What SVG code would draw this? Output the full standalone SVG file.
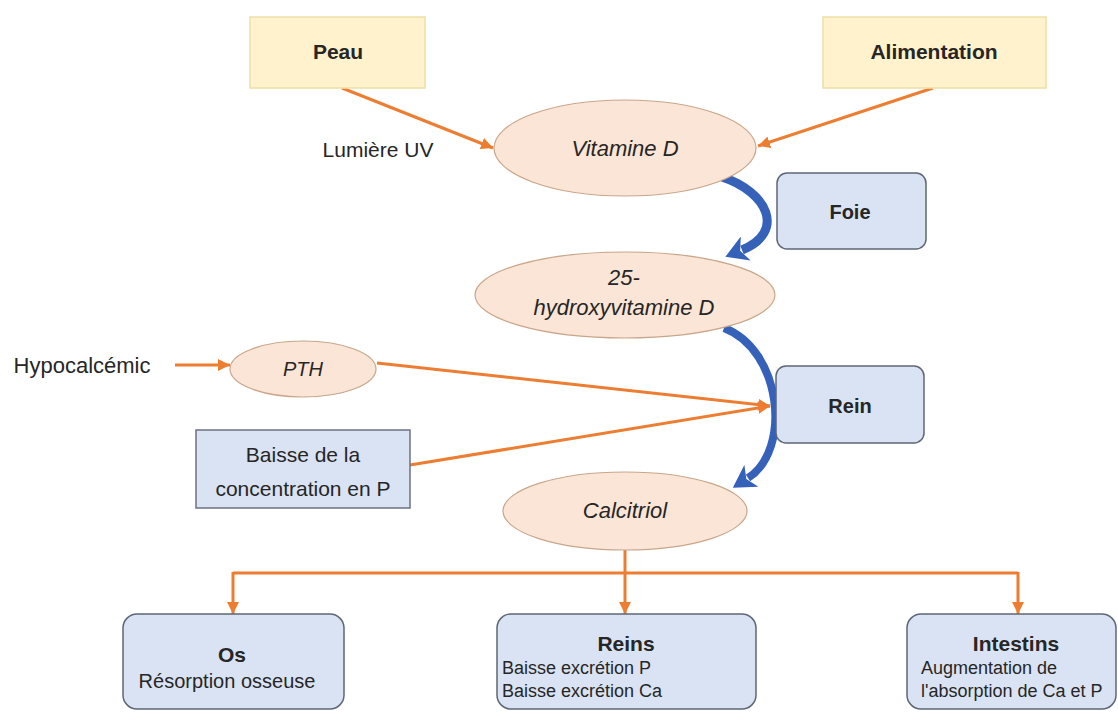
<svg xmlns="http://www.w3.org/2000/svg" width="1118" height="716" viewBox="0 0 1118 716">
<defs>
<style>
text{font-family:"Liberation Sans",Arial,sans-serif;fill:#262626;text-anchor:middle}
.b{font-weight:bold}
.i{font-style:italic}
.l{text-anchor:start}
.src{fill:#FFF2CC;stroke:#EEDFA6;stroke-width:1.5}
.ell{fill:#FBE5D6;stroke:#C9A689;stroke-width:1.2}
.org{fill:#DAE3F3;stroke:#5E6775;stroke-width:1.5}
.sq{fill:#DAE3F3;stroke:#6B7381;stroke-width:1.5}
.oc{stroke:#ED7D31;stroke-width:3;fill:none}
.bc{stroke:#3561B8;fill:none;stroke-linecap:butt}
</style>
<marker id="oa" markerUnits="userSpaceOnUse" markerWidth="14" markerHeight="12" refX="12" refY="6" orient="auto">
<path d="M0,0 L12,6 L0,12 Z" fill="#ED7D31"/>
</marker>
<marker id="ba" markerUnits="userSpaceOnUse" markerWidth="26" markerHeight="26" refX="4" refY="13" orient="auto">
<path d="M0,13 L22,0 L16,13 L22,26 Z" fill="#3561B8" transform="rotate(180 11 13)"/>
</marker>
</defs>

<g id="connectors">
<line class="oc" x1="342" y1="88" x2="493" y2="148" marker-end="url(#oa)"/>
<line class="oc" x1="933" y1="88" x2="758" y2="146" marker-end="url(#oa)"/>
<line class="oc" x1="175" y1="365" x2="230" y2="365" marker-end="url(#oa)"/>
<line class="oc" x1="377" y1="363" x2="770" y2="406" marker-end="url(#oa)"/>
<line class="oc" x1="410" y1="465" x2="770" y2="406" marker-end="url(#oa)"/>
<line class="oc" x1="625" y1="550" x2="625" y2="573"/>
<line class="oc" x1="233" y1="573" x2="1018" y2="573"/>
<line class="oc" x1="233" y1="572" x2="233" y2="614" marker-end="url(#oa)"/>
<line class="oc" x1="625" y1="572" x2="625" y2="614" marker-end="url(#oa)"/>
<line class="oc" x1="1018" y1="572" x2="1018" y2="614" marker-end="url(#oa)"/>
<path class="bc" stroke-width="9" d="M722,177 C768,192 786,232 742,250" marker-end="url(#ba)"/>
<path class="bc" stroke-width="8" d="M724,328 C782,350 792,450 748,478" marker-end="url(#ba)"/>
</g>

<g id="peau">
<rect class="src" x="250" y="17" width="175" height="71"/>
<text class="b" x="338" y="59" font-size="21">Peau</text>
</g>
<g id="alimentation">
<rect class="src" x="823" y="17" width="223" height="71"/>
<text class="b" x="934" y="59" font-size="21">Alimentation</text>
</g>
<g id="lumiere-uv">
<text x="378" y="157" font-size="21">Lumière UV</text>
</g>
<g id="vitamine-d">
<ellipse class="ell" cx="625" cy="148" rx="131" ry="48"/>
<text class="i" x="625" y="156" font-size="22">Vitamine D</text>
</g>
<g id="foie">
<rect class="org" x="777" y="173" width="149" height="76" rx="10"/>
<text class="b" x="850" y="219" font-size="20">Foie</text>
</g>
<g id="hydroxyvitamine-d">
<ellipse class="ell" cx="625" cy="295" rx="150" ry="43"/>
<text class="i" x="624" y="285" font-size="22">25-</text>
<text class="i" x="624" y="315" font-size="22">hydroxyvitamine D</text>
</g>
<g id="hypocalcemie">
<text x="82" y="373" font-size="22">Hypocalcémic</text>
</g>
<g id="pth">
<ellipse class="ell" cx="303" cy="369" rx="73" ry="28"/>
<text class="i" x="303" y="376" font-size="20">PTH</text>
</g>
<g id="rein">
<rect class="org" x="776" y="366" width="148" height="77" rx="10"/>
<text class="b" x="850" y="413" font-size="20">Rein</text>
</g>
<g id="baisse-p">
<rect class="sq" x="196" y="430" width="214" height="78"/>
<text x="303" y="462" font-size="21">Baisse de la</text>
<text x="303" y="496" font-size="21">concentration en P</text>
</g>
<g id="calcitriol">
<ellipse class="ell" cx="625" cy="511" rx="122" ry="39"/>
<text class="i" x="625" y="518" font-size="22">Calcitriol</text>
</g>
<g id="os">
<rect class="org" x="123" y="614" width="221" height="95" rx="14"/>
<text class="b" x="232" y="662" font-size="21">Os</text>
<text x="227" y="688" font-size="20">Résorption osseuse</text>
</g>
<g id="reins">
<rect class="org" x="497" y="614" width="259" height="95" rx="14"/>
<text class="b" x="626" y="651" font-size="21">Reins</text>
<text class="l" x="502" y="674" font-size="18">Baisse excrétion P</text>
<text class="l" x="502" y="697" font-size="18">Baisse excrétion Ca</text>
</g>
<g id="intestins">
<rect class="org" x="907" y="614" width="209" height="95" rx="14"/>
<text class="b" x="1016" y="651" font-size="21">Intestins</text>
<text class="l" x="921" y="674" font-size="18">Augmentation de</text>
<text class="l" x="921" y="697" font-size="18">l'absorption de Ca et P</text>
</g>
</svg>
